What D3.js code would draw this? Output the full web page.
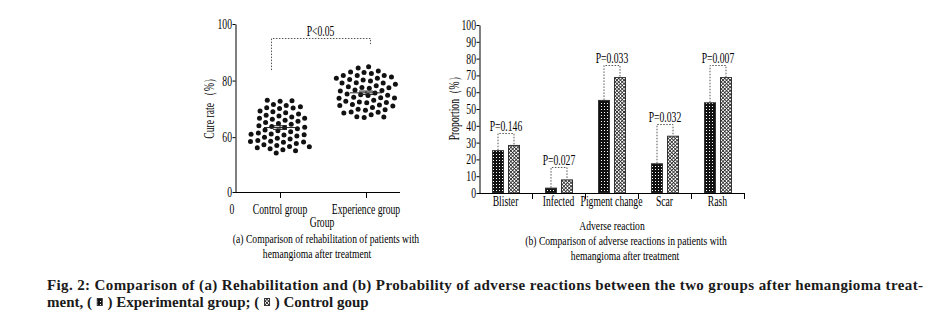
<!DOCTYPE html>
<html><head><meta charset="utf-8">
<script src="https://cdn.jsdelivr.net/npm/d3@7"></script>
<style>html,body{margin:0;padding:0;background:#fff;} svg{display:block;} text{white-space:pre;}</style>
</head><body>
<svg id="c" width="938" height="322"></svg>
<script>
// ---------- data ----------
const groupCats = ["Control group", "Experience group"];
const controlRates = [72.1, 71.6, 71.9, 70.4, 71.0, 70.8, 69.7, 70.2, 69.1, 68.8, 69.4, 68.0, 67.5, 68.3, 66.9, 67.2,
  66.1, 66.6, 65.8, 65.2, 65.5, 64.7, 64.3, 64.9, 63.6, 63.2, 63.9, 62.8, 62.1, 62.5, 61.7, 61.9, 61.2, 60.8, 61.0,
  60.3, 60.6, 59.9, 59.5, 60.1, 59.1, 58.8, 59.3, 58.4, 58.6, 58.0, 57.7, 58.2, 57.4, 57.1, 57.6, 56.8, 56.5, 57.0,
  56.2, 62.3];
const experienceRates = [83.6, 83.2, 82.9, 82.5, 82.7, 81.8, 82.1, 81.4, 81.0, 80.6, 80.9, 80.2, 79.7, 80.0, 79.3,
  78.8, 79.1, 78.4, 78.0, 78.2, 77.6, 77.1, 77.4, 76.8, 76.5, 76.9, 76.0, 75.6, 75.9, 75.2, 74.8, 74.5, 74.9, 74.1,
  73.7, 74.0, 73.3, 72.9, 73.1, 72.5, 72.0, 72.3, 71.6, 71.2, 71.5, 70.8, 70.4, 70.6, 70.0, 69.5, 69.8, 69.1, 68.6,
  68.2, 67.6, 67.1];
const cureTicks = [0, 60, 80, 100];
const cureP = "P<0.05";

const reactionCats = ["Blister", "Infected", "Pigment change", "Scar", "Rash"];
const seriesNames = ["Experimental group", "Control group"];
const experimentalPct = [25.5, 3.2, 55.4, 17.7, 54.0];
const controlPct = [28.6, 8.1, 69.0, 34.1, 69.0];
const pValues = ["P=0.146", "P=0.027", "P=0.033", "P=0.032", "P=0.007"];
const propTicks = [0, 10, 20, 30, 40, 50, 60, 70, 80, 90, 100];

// ---------- setup ----------
const svg = d3.select("#c");
const FONT = "'Liberation Serif', 'Times New Roman', serif";
const FS = 14;
const SX = 0.69;
const INK = "#000";

const defs = svg.append("defs");
const pd = defs.append("pattern").attr("id", "pDark").attr("width", 3).attr("height", 3)
  .attr("patternUnits", "userSpaceOnUse");
pd.append("rect").attr("width", 3).attr("height", 3).attr("fill", "#111");
pd.append("rect").attr("x", 1).attr("y", 1).attr("width", 1).attr("height", 1).attr("fill", "#fff");
const pl = defs.append("pattern").attr("id", "pLight").attr("width", 2.5).attr("height", 2.5)
  .attr("patternUnits", "userSpaceOnUse").attr("patternTransform", "rotate(45)");
pl.append("rect").attr("width", 2.5).attr("height", 2.5).attr("fill", "#fff");
pl.append("path").attr("d", "M0,0.4H2.5M0.4,0V2.5").attr("stroke", "#222").attr("stroke-width", 0.8);
const fills = ["url(#pDark)", "url(#pLight)"];

function label(g, x, y, s, o = {}) {
  return g.append("text")
    .attr("transform", `translate(${x},${y})` + (o.rot ? ` rotate(${o.rot})` : "") + ` scale(${o.sx || SX},1)`)
    .attr("text-anchor", o.anchor || "middle")
    .attr("font-family", FONT).attr("font-size", o.size || FS)
    .attr("fill", INK).text(s);
}

// ---------- (a) left chart ----------
const A = { x0: 235, x1: 400, yTop: 24, yBot: 192 };
const yCure = d3.scaleLinear().domain([0, 55, 100]).range([A.yBot, 151.3, A.yTop]);
const xGroup = d3.scalePoint().domain(groupCats).range([280, 366]);
const gA = svg.append("g");

const yAx = gA.append("g").attr("transform", `translate(${A.x0 + 0.5},0)`)
  .call(d3.axisLeft(yCure).tickValues(cureTicks).tickSize(3).tickSizeOuter(0));
yAx.select(".domain").attr("stroke", INK);
yAx.selectAll(".tick line").attr("stroke", INK);
yAx.selectAll("text").attr("font-family", FONT).attr("font-size", FS).attr("fill", INK)
  .attr("x", 0).attr("dy", "0.32em").attr("transform", `translate(-3.5,0) scale(${SX},1)`);

gA.append("line").attr("x1", A.x0).attr("x2", A.x1).attr("y1", A.yBot + 0.5).attr("y2", A.yBot + 0.5)
  .attr("stroke", INK);
const xAx = gA.append("g").attr("transform", `translate(0,${A.yBot})`)
  .call(d3.axisBottom(xGroup).tickSize(6).tickSizeOuter(0));
xAx.select(".domain").remove();
xAx.selectAll(".tick line").attr("stroke", INK);
xAx.selectAll("text").remove();
groupCats.forEach(c => label(gA, xGroup(c), 214, c));
label(gA, A.x0 - 3, 214, "0");
label(gA, 322, 227, "Group");
label(gA, 214, 106, "Cure rate （%）", { rot: -90 });
label(gA, 326, 243, "(a) Comparison of rehabilitation of patients with", { size: 13, sx: 0.74 });
label(gA, 317, 258, "hemangioma after treatment", { size: 13, sx: 0.74 });

function swarm(vals, cx) {
  const nodes = vals.map((v, i) => ({ v, x: cx + ((i % 2) ? 1 : -1) * (i % 9), y: yCure(v) }));
  const sim = d3.forceSimulation(nodes)
    .force("x", d3.forceX(cx).strength(0.035))
    .force("y", d3.forceY(d => yCure(d.v)).strength(0.9))
    .force("c", d3.forceCollide(3.7))
    .stop();
  for (let i = 0; i < 400; i++) sim.tick();
  return nodes;
}
[controlRates, experienceRates].forEach((vals, k) => {
  const cx = xGroup(groupCats[k]);
  const nodes = swarm(vals, cx);
  gA.append("g").selectAll("circle").data(nodes).join("circle")
    .attr("cx", d => d.x).attr("cy", d => d.y).attr("r", 2.5).attr("fill", "#111");
  const m = d3.mean(vals), se = d3.deviation(vals) / Math.sqrt(vals.length);
  const ym = yCure(m);
  const g = gA.append("g").attr("stroke", "#222").attr("stroke-width", 1).attr("fill", "none");
  g.append("line").attr("x1", cx - 16).attr("x2", cx + 16).attr("y1", ym).attr("y2", ym);
  g.append("line").attr("x1", cx).attr("x2", cx).attr("y1", yCure(m - se)).attr("y2", yCure(m + se));
  [m - se, m + se].forEach(v => g.append("line").attr("x1", cx - 7).attr("x2", cx + 7)
    .attr("y1", yCure(v)).attr("y2", yCure(v)));
});
{
  const xl = xGroup(groupCats[0]) - 9, xr = xGroup(groupCats[1]) + 4;
  const yl = yCure(83.7), yr = yCure(92.9), ytop = Math.round(yCure(95)) + 0.5;
  gA.append("path").attr("d", `M${xl + 0.5},${yl}V${ytop}H${xr + 0.5}V${yr}`)
    .attr("fill", "none").attr("stroke", "#555").attr("stroke-dasharray", "1.5,1.5");
  label(gA, (xl + xr) / 2, ytop - 3, cureP);
}

// ---------- (b) right chart ----------
const B = { x0: 479, x1: 744, yTop: 25, yBot: 193 };
const yProp = d3.scaleLinear().domain([0, 100]).range([B.yBot, B.yTop]);
const xCat = d3.scaleBand().domain(reactionCats).range([B.x0, B.x1]);
const xSer = d3.scaleBand().domain(seriesNames).range([13, 41]).paddingInner(0.25);
const gB = svg.append("g");
const seriesVals = [experimentalPct, controlPct];

seriesNames.forEach((s, k) => {
  gB.append("g").selectAll("rect").data(reactionCats).join("rect")
    .attr("x", c => xCat(c) + xSer(s) + 0.5)
    .attr("y", (c, i) => yProp(seriesVals[k][i]) + 0.5)
    .attr("width", xSer.bandwidth() - 1)
    .attr("height", (c, i) => B.yBot - yProp(seriesVals[k][i]) - 0.5)
    .attr("fill", fills[k]).attr("stroke", "#333").attr("stroke-width", 1);
});

const yAxB = gB.append("g").attr("transform", `translate(${B.x0 + 0.5},0)`)
  .call(d3.axisLeft(yProp).tickValues(propTicks).tickSize(3).tickSizeOuter(0));
yAxB.select(".domain").attr("stroke", INK);
yAxB.selectAll(".tick line").attr("stroke", INK);
yAxB.selectAll("text").attr("font-family", FONT).attr("font-size", FS).attr("fill", INK)
  .attr("x", 0).attr("dy", "0.32em").attr("transform", `translate(-3.5,0) scale(${SX},1)`);
gB.append("line").attr("x1", B.x0).attr("x2", B.x1 + 1).attr("y1", B.yBot + 0.5).attr("y2", B.yBot + 0.5)
  .attr("stroke", INK);
gB.append("g").selectAll("line").data(reactionCats).join("line")
  .attr("x1", c => xCat(c) + xCat.bandwidth() + 0.5).attr("x2", c => xCat(c) + xCat.bandwidth() + 0.5)
  .attr("y1", B.yBot).attr("y2", B.yBot + 6).attr("stroke", INK);
reactionCats.forEach(c => label(gB, xCat(c) + xCat.bandwidth() / 2, 206, c));
label(gB, 459, 106, "Proportion（%）", { rot: -90 });
label(gB, 612, 230, "Adverse reaction", { size: 13, sx: 0.74 });
label(gB, 626, 245, "(b) Comparison of adverse reactions in patients with", { size: 13, sx: 0.74 });
label(gB, 625, 260, "hemangioma after treatment", { size: 13, sx: 0.74 });

reactionCats.forEach((c, i) => {
  const xa = xCat(c) + xSer(seriesNames[0]) + xSer.bandwidth() / 2;
  const xb = xCat(c) + xSer(seriesNames[1]) + xSer.bandwidth() / 2;
  const ya = yProp(experimentalPct[i]), yb = yProp(controlPct[i]);
  const top = Math.round(Math.min(ya, yb) - 12) + 0.5;
  gB.append("path").attr("d", `M${xa},${ya}V${top}H${xb}V${yb}`)
    .attr("fill", "none").attr("stroke", "#555").attr("stroke-dasharray", "1.5,1.5");
  label(gB, (xa + xb) / 2, top - 2.5, pValues[i]);
});

// ---------- figure caption ----------
const CF = { family: "'Liberation Serif', 'Times New Roman', serif", size: 15 };
svg.append("text").attr("x", 47).attr("y", 290)
  .attr("font-family", CF.family).attr("font-size", CF.size).attr("font-weight", "bold").attr("fill", "#1a1a1a")
  .attr("textLength", 876).attr("lengthAdjust", "spacing")
  .text("Fig. 2: Comparison of (a) Rehabilitation and (b) Probability of adverse reactions between the two groups after hemangioma treat-");
{
  let cx = 47;
  const by = 307;
  const seg = s => {
    const t = svg.append("text").attr("x", cx).attr("y", by)
      .attr("font-family", CF.family).attr("font-size", CF.size).attr("font-weight", "bold").attr("fill", "#1a1a1a")
      .text(s);
    cx += t.node().getComputedTextLength();
  };
  const box = k => {
    svg.append("rect").attr("x", cx + 1.5).attr("y", by - 8.5).attr("width", 5).attr("height", 7)
      .attr("fill", fills[k]).attr("stroke", "#333").attr("stroke-width", 1);
    cx += 8;
  };
  seg("ment, ( "); box(0); seg(" ) " + seriesNames[0] + "; ( "); box(1); seg(" ) Control goup");
}
</script>
</body></html>
